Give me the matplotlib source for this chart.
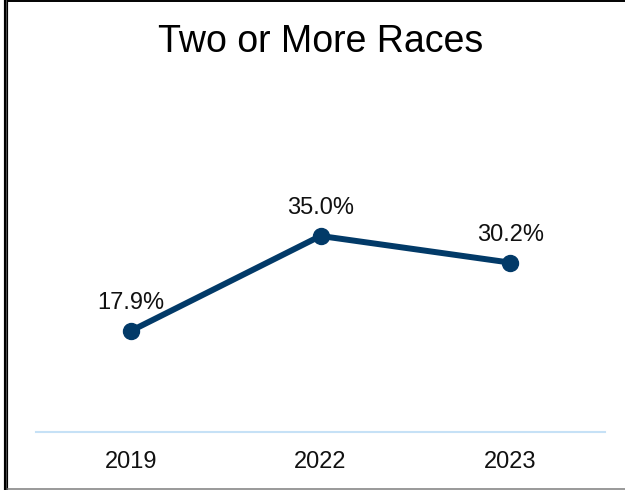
import matplotlib
matplotlib.use("Agg")
import matplotlib.pyplot as plt
from matplotlib.lines import Line2D

plt.rcParams['font.family'] = ['Liberation Sans', 'DejaVu Sans']

years = ["2019", "2022", "2023"]
values = [17.9, 35.0, 30.2]
labels = ["17.9%", "35.0%", "30.2%"]

W, H = 625, 490
fig = plt.figure(figsize=(W / 100, H / 100), dpi=100)

# plot area in pixel terms: x 36..605, y 100..432 (from top)
left, right, top, bottom = 36, 605, 100, 432
ax = fig.add_axes([left / W, 1 - bottom / H, (right - left) / W, (bottom - top) / H])

x = list(range(len(years)))
navy = "#023a68"
ax.plot(x, values, color=navy, lw=4.3, marker="o", markersize=11.5,
        solid_capstyle="round", zorder=3)
for xi, v, lab in zip(x, values, labels):
    ax.annotate(lab, (xi, v), xytext=(0, 20), textcoords="offset points",
                ha="center", va="center", fontsize=17, color="#111111")

ax.set_xlim(-0.5, 2.5)
ax.set_ylim(-0.29, 59.47)
ax.set_xticks(x)
ax.set_xticklabels(years, fontsize=17, color="#111111")
ax.tick_params(axis="x", length=0, pad=14)
ax.set_yticks([])
for s in ["top", "right", "left"]:
    ax.spines[s].set_visible(False)
ax.spines["bottom"].set_color("#c6e1f6")
ax.spines["bottom"].set_linewidth(1.5)

fig.text(321 / W, 1 - 42 / H, "Two or More Races", ha="center", va="center",
         fontsize=27, color="#000000")

# frame lines around the card
def px_line(x0, y0, x1, y1, color, lw):
    fig.add_artist(Line2D([x0 / W, x1 / W], [1 - y0 / H, 1 - y1 / H],
                          transform=fig.transFigure, color=color, lw=lw))

px_line(6, 0, 6, H, "#000000", 3.0)
px_line(6, 0, 6, H, "#555555", 0.6)
px_line(8, 0.7, W, 0.7, "#000000", 1.4)
px_line(8, 489.3, W, 489.3, "#888888", 1.2)

fig.savefig("out.png", dpi=100)
